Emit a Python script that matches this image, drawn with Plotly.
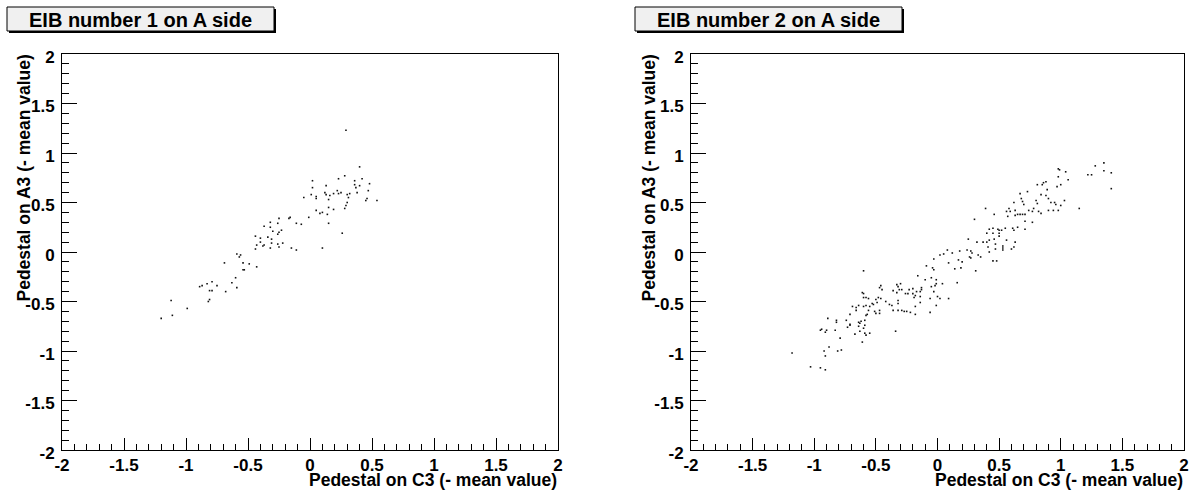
import plotly.graph_objects as go

# EIB 1 on A side: pedestal on C3 vs pedestal on A3 (mean subtracted)
eib1_c3 = [0.29, 0.40, 0.28, 0.02, 0.23, 0.42, 0.36, 0.48, 0.02, 0.13, 0.36, 0.40, 0.37, 0.47,
           0.22, 0.25, 0.12, 0.01, 0.13, 0.16, 0.19, 0.23, 0.32, 0.30, 0.38, 0.31, 0.05, 0.05,
           -0.05, 0.15, 0.46, 0.45, 0.54, 0.30, 0.29, 0.28, 0.15, 0.19, 0.05, 0.10, 0.08, 0.14,
           -0.01, 0.15, 0.26, 0.10, -0.25, -0.17, -0.16, -0.32, -0.26, -0.11, -0.07, -0.37,
           -0.32, -0.23, -0.25, -0.30, -0.26, -0.44, -0.34, -0.40, -0.31, -0.40, -0.31, -0.22,
           -0.43, -0.37, -0.38, -0.26, -0.25, -0.32, -0.44, -0.15, -0.11, -0.59, -0.56, -0.57,
           -0.69, -0.54, -0.49, -0.43, -0.54, -0.53, -0.60, -0.63, -0.79, -0.83, -0.75, -0.89,
           -0.87, -0.59, -0.81, -0.79, -0.68, -0.81, -0.82, -1.12, -0.99, -1.11, -1.20]
eib1_a3 = [1.23, 0.86, 0.77, 0.72, 0.74, 0.74, 0.72, 0.69, 0.65, 0.67, 0.68, 0.67, 0.65, 0.62,
           0.62, 0.60, 0.60, 0.58, 0.58, 0.57, 0.59, 0.59, 0.59, 0.58, 0.60, 0.55, 0.56, 0.54,
           0.55, 0.53, 0.54, 0.52, 0.52, 0.50, 0.47, 0.44, 0.45, 0.43, 0.42, 0.40, 0.39, 0.38,
           0.35, 0.29, 0.19, 0.04, 0.34, 0.34, 0.35, 0.30, 0.29, 0.29, 0.28, 0.26, 0.25, 0.22,
           0.20, 0.21, 0.18, 0.16, 0.15, 0.14, 0.13, 0.10, 0.09, 0.09, 0.07, 0.07, 0.06, 0.08,
           0.05, 0.04, 0.03, 0.04, 0.02, -0.02, -0.03, -0.05, -0.11, -0.11, -0.12, -0.15,
           -0.18, -0.18, -0.26, -0.31, -0.30, -0.32, -0.34, -0.35, -0.34, -0.36, -0.39, -0.39,
           -0.40, -0.48, -0.50, -0.49, -0.57, -0.64, -0.67]

# EIB 2 on A side
eib2_c3 = [1.35, 1.28, 1.35, 1.41, 1.41, 1.22, 1.25, 0.98, 0.99, 1.04, 0.98, 1.06, 0.88, 0.86,
           0.85, 0.81, 1.00, 0.89, 0.97, 0.73, 0.67, 0.84, 0.88, 0.90, 0.68, 0.62, 0.69, 0.80,
           0.81, 0.95, 1.03, 0.92, 0.96, 1.00, 1.15, 0.39, 0.58, 0.63, 0.59, 0.70, 0.78, 0.77,
           0.82, 0.74, 0.71, 0.69, 0.67, 0.65, 0.63, 0.57, 0.56, 0.46, 0.90, 0.94, 0.98, 0.84,
           0.71, 0.77, 0.30,
           0.42, 0.45, 0.49, 0.50, 0.52, 0.45, 0.40, 0.61, 0.65, 0.62, 0.71, 0.55, 0.50, 0.50,
           0.46, 0.56, 0.63, 0.37, 0.40, 0.32, 0.25, 0.42, 0.47, 0.41, 0.53, 0.53, 0.62, 0.60,
           0.47, 0.42, 0.53, 0.24, 0.27, 0.18, 0.08, 0.12, 0.05, 0.02, 0.28, 0.26, 0.27, 0.33,
           0.35, 0.45, 0.48, 0.17, 0.20, 0.09, -0.03, -0.09, -0.04, -0.03, 0.19, 0.14, 0.31,
           0.16,
           -0.16, -0.10, -0.05, -0.01, -0.01, -0.02, 0.04, -0.05, -0.03, -0.13, -0.13, -0.14,
           -0.17, -0.20, -0.23, -0.20, -0.18, -0.19, -0.14, -0.14, -0.18, -0.18, -0.22, -0.25,
           -0.27, -0.29, -0.32, -0.36, -0.33, -0.32, -0.30, -0.29, -0.31, -0.36, -0.33, -0.26,
           -0.24, -0.32, -0.32, -0.37, -0.39, -0.42, -0.46, -0.47, -0.45, -0.48, -0.46, -0.50,
           -0.49, -0.52, -0.53, -0.55, -0.56, -0.58, -0.60, -0.61, -0.60, -0.58, -0.60, -0.64,
           -0.66, -0.69, -0.66, -0.71, -0.56, -0.57, -0.58, -0.51, -0.47, -0.50, -0.47, -0.59,
           -0.62, -0.63, -0.59, -0.60, -0.64, -0.64, -0.67, -0.58, -0.55, -0.59, -0.63, -0.60,
           -0.74, -0.71, -0.73, -0.71, -0.82, -0.89, -0.82, -0.83, -0.90, -0.94, -0.95, -0.91,
           -0.79, -0.61, -0.34, -0.06, -0.06, 0.00, 0.02, 0.09, -0.01,
           -0.88, -0.92, -0.81, -0.78, -0.91, -1.18, -1.03, -0.95, -0.91]
eib2_a3 = [0.90, 0.87, 0.82, 0.80, 0.64, 0.78, 0.78, 0.84, 0.83, 0.81, 0.76, 0.73, 0.71, 0.70,
           0.68, 0.68, 0.68, 0.63, 0.66, 0.61, 0.59, 0.58, 0.57, 0.54, 0.54, 0.50, 0.51, 0.52,
           0.49, 0.50, 0.52, 0.50, 0.48, 0.47, 0.44, 0.44, 0.44, 0.42, 0.41, 0.48, 0.44, 0.41,
           0.41, 0.42, 0.38, 0.38, 0.38, 0.38, 0.37, 0.36, 0.41, 0.38, 0.42, 0.42, 0.42, 0.39,
           0.31, 0.30, 0.33,
           0.23, 0.24, 0.23, 0.22, 0.22, 0.19, 0.19, 0.24, 0.25, 0.22, 0.23, 0.24, 0.19, 0.16,
           0.13, 0.12, 0.10, 0.10, 0.10, 0.10, 0.13, 0.12, 0.08, 0.05, 0.06, 0.04, 0.05, 0.03,
           0.03, 0.00, 0.02, 0.02, 0.01, 0.01, 0.02, -0.01, -0.02, -0.03, -0.01, -0.05, -0.06,
           -0.03, -0.05, -0.09, -0.09, -0.08, -0.10, -0.11, -0.07, -0.14, -0.16, -0.18, -0.16,
           -0.17, -0.19, -0.31,
           -0.24, -0.28, -0.26, -0.28, -0.32, -0.34, -0.32, -0.35, -0.40, -0.36, -0.38, -0.40,
           -0.40, -0.37, -0.38, -0.42, -0.44, -0.46, -0.45, -0.51, -0.55, -0.63, -0.61, -0.60,
           -0.60, -0.59, -0.59, -0.59, -0.33, -0.35, -0.32, -0.38, -0.38, -0.39, -0.41, -0.42,
           -0.42, -0.52, -0.49, -0.54, -0.53, -0.50, -0.34, -0.36, -0.38, -0.46, -0.47, -0.48,
           -0.51, -0.53, -0.52, -0.55, -0.47, -0.46, -0.46, -0.41, -0.42, -0.54, -0.55, -0.54,
           -0.56, -0.55, -0.59, -0.63, -0.59, -0.63, -0.64, -0.60, -0.59, -0.62, -0.62, -0.69,
           -0.70, -0.72, -0.74, -0.77, -0.75, -0.71, -0.83, -0.84, -0.82, -0.82, -0.80, -0.19,
           -0.69, -0.73, -0.76, -0.74, -0.69, -0.67, -0.71, -0.79, -0.79, -0.78, -0.79, -0.81,
           -0.87, -0.91, -0.80, -0.61, -0.47, -0.45, -0.47, -0.47, -0.54,
           -0.96, -1.00, -1.00, -0.99, -1.05, -1.02, -1.16, -1.17, -1.19]

axis_ticks = [-2, -1.5, -1, -0.5, 0, 0.5, 1, 1.5, 2]
tick_text = ["-2", "-1.5", "-1", "-0.5", "0", "0.5", "1", "1.5", "2"]
titles = ["EIB number 1 on A side", "EIB number 2 on A side"]
x_title = "Pedestal on C3 (- mean value)"
y_title = "Pedestal on A3 (- mean value)"

W, H = 1192, 491


def px(x):
    return x / W


def py(y):
    return 1 - y / H


BOLD = dict(family="Liberation Sans, Arial, Helvetica, sans-serif", color="black", weight="bold")
MARK = dict(symbol="square", size=1.6, color="#111111", line=dict(width=0))

fig = go.Figure()
fig.add_trace(go.Scatter(x=eib1_c3, y=eib1_a3, mode="markers", xaxis="x", yaxis="y",
                         marker=MARK, showlegend=False, hoverinfo="skip"))
fig.add_trace(go.Scatter(x=eib2_c3, y=eib2_a3, mode="markers", xaxis="x2", yaxis="y2",
                         marker=MARK, showlegend=False, hoverinfo="skip"))

frames = [(62, 558), (691, 1184)]
top, bottom = 54, 450


def axis_cfg(domain, anchor, ticklen, minorlen, standoff, shift):
    return dict(domain=domain, anchor=anchor, range=[-2, 2], tickmode="array",
                tickvals=axis_ticks, ticktext=tick_text, ticks="inside", ticklen=ticklen,
                tickwidth=1, tickcolor="black", showgrid=False, zeroline=False,
                showline=True, linecolor="black", linewidth=1, mirror=True,
                automargin=False, fixedrange=True,
                ticklabelstandoff=standoff, ticklabelshift=shift,
                tickfont=dict(size=17, **BOLD),
                minor=dict(ticks="inside", ticklen=minorlen, tickcolor="black", dtick=0.1,
                           tick0=0, showgrid=False))


ydom = [py(bottom), py(top)]
fig.update_layout(
    width=W, height=H, margin=dict(l=0, r=0, t=0, b=0, autoexpand=False),
    paper_bgcolor="white", plot_bgcolor="white",
    xaxis=axis_cfg([px(frames[0][0]), px(frames[0][1])], "y", 12, 6, 0, 0),
    yaxis=axis_cfg(ydom, "x", 15, 7, 3, 3),
    xaxis2=axis_cfg([px(frames[1][0]), px(frames[1][1])], "y2", 12, 6, 0, 0),
    yaxis2=axis_cfg(ydom, "x2", 15, 7, 3, 3),
)

shapes = []
annotations = []
boxes = [(7, 274), (635, 902)]
ytitle_x = [23, 648]
for i in range(2):
    bx0, bx1 = boxes[i]
    # drop shadow behind the title box
    shapes.append(dict(type="rect", xref="paper", yref="paper",
                       x0=px(bx0 + 2), x1=px(bx1 + 2), y0=py(33), y1=py(9),
                       fillcolor="black", line=dict(width=0), layer="above"))
    shapes.append(dict(type="rect", xref="paper", yref="paper",
                       x0=px(bx0), x1=px(bx1), y0=py(31), y1=py(7),
                       fillcolor="#f0f0f0", line=dict(color="black", width=1), layer="above"))
    annotations.append(dict(text=titles[i], xref="paper", yref="paper",
                            x=px((bx0 + bx1) / 2), y=py(19.5), xanchor="center",
                            yanchor="middle", showarrow=False, font=dict(size=20, **BOLD)))
    annotations.append(dict(text=x_title, xref="paper", yref="paper",
                            x=px(frames[i][1]), y=0, xanchor="right", yanchor="bottom",
                            borderpad=0, showarrow=False, font=dict(size=17.5, **BOLD)))
    annotations.append(dict(text=y_title, xref="paper", yref="paper", textangle=-90,
                            x=px(ytitle_x[i]), y=py(top), xanchor="center", yanchor="top",
                            borderpad=0, showarrow=False, font=dict(size=17.5, **BOLD)))

fig.update_layout(shapes=shapes, annotations=annotations)
fig.write_html("out.html")
